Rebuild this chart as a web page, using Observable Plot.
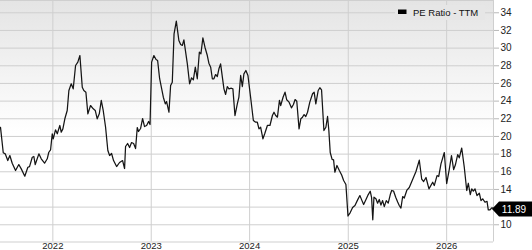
<!DOCTYPE html>
<html><head><meta charset="utf-8">
<script src="https://cdn.jsdelivr.net/npm/d3@7"></script>
<script src="https://cdn.jsdelivr.net/npm/@observablehq/plot@0.6"></script>
<style>
html,body{margin:0;padding:0;background:#fff;}
#chart{position:relative;width:532px;height:250px;overflow:hidden;}
#chart svg{font-family:"Liberation Sans",Arial,Helvetica,sans-serif;}
#chart svg [aria-label^="y-axis"] line,#chart svg [aria-label^="y-axis"] path{stroke:#b8b8b8;}
#chart svg [aria-label^="x-axis"] text{font-size:9.5px;}
</style></head><body><div id="chart"></div>
<script>
// decimal years of the weekly observations
const years = [
2021.468,2021.496,2021.516,2021.542,2021.563,2021.587,2021.621,2021.654,2021.679,2021.715,
2021.746,2021.763,2021.791,2021.807,2021.821,2021.858,2021.882,2021.916,2021.943,2021.959,
2021.977,2021.994,2022.004,2022.027,2022.045,2022.071,2022.085,2022.102,2022.122,2022.146,
2022.163,2022.187,2022.207,2022.231,2022.254,2022.275,2022.299,2022.315,
2022.336,2022.356,2022.383,2022.411,2022.431,2022.451,2022.472,2022.492,2022.512,2022.536,
2022.559,2022.577,2022.597,2022.617,2022.648,2022.678,2022.709,2022.729,2022.739,2022.760,
2022.780,2022.800,2022.821,2022.841,2022.858,2022.871,2022.892,2022.912,2022.932,2022.953,
2022.973,2022.988,
2023.004,2023.027,2023.049,2023.065,2023.085,2023.123,2023.143,2023.156,2023.180,2023.197,
2023.214,2023.232,2023.255,2023.281,2023.299,2023.316,2023.332,2023.367,2023.390,2023.410,
2023.428,2023.448,2023.468,2023.489,2023.505,2023.525,2023.546,2023.570,2023.586,2023.604,
2023.621,2023.637,2023.654,2023.672,2023.688,2023.705,2023.723,2023.739,2023.756,2023.773,
2023.790,2023.814,2023.830,2023.851,2023.875,2023.891,2023.909,2023.926,2023.942,
2023.962,2023.983,2024.010,2024.038,2024.061,2024.078,2024.095,2024.112,2024.135,2024.153,
2024.180,2024.206,2024.231,2024.247,2024.264,2024.282,2024.302,2024.315,2024.339,2024.359,
2024.376,2024.400,2024.424,2024.444,2024.461,2024.478,2024.501,2024.519,2024.536,2024.552,
2024.569,2024.587,2024.610,2024.638,2024.654,2024.671,2024.695,2024.712,2024.729,2024.753,
2024.773,
2024.790,2024.803,2024.817,2024.836,2024.851,2024.864,2024.885,2024.908,2024.933,2024.953,
2024.976,2024.997,2025.020,2025.044,2025.068,2025.095,2025.118,2025.136,2025.156,2025.180,
2025.203,2025.223,2025.237,2025.249,2025.261,2025.281,2025.298,2025.315,2025.332,2025.349,
2025.366,2025.386,2025.406,2025.427,2025.441,2025.461,2025.482,2025.502,2025.518,2025.535,
2025.553,2025.569,2025.596,2025.620,2025.654,2025.688,2025.722,2025.746,2025.766,2025.790,
2025.820,2025.858,2025.874,2025.902,2025.919,2025.942,2025.976,2026.000,2026.027,2026.049,
2026.071,2026.088,2026.112,2026.128,2026.153,2026.179,2026.204,2026.220,2026.240,2026.255,
2026.271,2026.288,2026.308,2026.332,2026.349,2026.366,2026.390,2026.410,2026.423,2026.440,
2026.458,2026.476
];
// PE Ratio - TTM values
const peRatio = [
21.04,18.15,18.03,17.27,17.84,16.97,16.14,16.82,16.33,15.50,
16.51,16.59,17.65,17.73,16.82,18.03,17.47,16.97,17.47,18.21,
18.49,20.30,19.73,20.75,20.30,21.24,20.48,20.86,22.00,22.94,
25.20,25.96,25.39,28.03,28.41,29.16,25.57,25.20,
25.01,22.56,23.50,23.13,22.94,22.00,22.56,24.07,22.94,21.04,
18.41,17.84,18.07,17.27,16.59,17.05,17.27,16.37,18.86,19.20,
18.75,19.31,19.20,18.63,21.01,20.56,20.90,22.03,21.12,21.24,
21.69,21.35,
28.41,29.16,28.71,28.60,26.56,24.44,23.69,23.95,22.74,25.77,
26.14,31.62,33.05,30.86,30.41,30.30,30.94,28.22,25.96,26.64,
26.41,27.84,26.53,29.54,29.36,31.17,30.10,29.16,28.29,27.84,
26.53,26.53,27.01,26.79,27.66,28.22,26.71,25.39,24.75,25.65,
25.39,25.46,25.39,22.37,23.69,24.44,26.90,25.65,27.09,
27.47,26.90,24.44,21.80,21.61,21.61,20.86,21.04,19.73,20.30,
21.24,21.24,22.37,22.74,22.37,22.18,24.07,23.50,24.44,25.01,
24.15,23.88,23.24,23.62,24.18,23.99,20.86,22.00,22.18,22.48,
22.26,22.74,23.88,24.83,25.01,23.69,25.20,25.51,25.28,20.67,
21.04,
22.26,20.67,18.18,17.41,17.35,15.95,16.71,16.17,15.63,15.01,
14.56,10.99,11.38,11.95,12.18,12.82,13.31,12.82,12.29,12.86,
13.42,13.80,13.08,10.56,13.12,12.94,12.44,12.86,12.23,12.74,
12.06,12.74,12.46,13.42,13.88,13.80,13.12,12.57,12.18,11.89,
13.20,13.03,13.93,14.22,15.12,16.03,17.31,15.18,14.90,15.35,
14.07,14.82,14.44,15.57,15.46,16.90,18.18,14.67,16.31,17.84,
16.25,16.76,17.95,17.58,18.69,16.51,13.88,14.70,13.42,14.07,
13.80,14.07,13.31,13.57,12.74,12.94,12.55,12.66,11.69,11.69,
11.92,11.89
];
const yTicks = [10,12,14,16,18,20,22,24,26,28,30,32,34];
const xTickYears = [2022,2023,2024,2025,2026];
const seriesName = "PE Ratio - TTM";
const lastLabel = "11.89";

function toDate(t){const y=Math.floor(t);const s=Date.UTC(y,0,1),e=Date.UTC(y+1,0,1);return new Date(s+(t-y)*(e-s));}
const data = years.map((t,i)=>({date:toDate(t), value:peRatio[i]}));
const xTicks = xTickYears.map(y=>new Date(Date.UTC(y,0,1)));
const last=data[data.length-1];

const W=532,H=250,plotRight=493,plotBottom=241.5;
const yDomain=[8.05,35.39];
const grid="#cfcfcf";
const chart = Plot.plot({
  width:W,height:H,
  marginLeft:0,marginRight:W-plotRight,marginTop:0,marginBottom:H-plotBottom,
  style:{background:"transparent",fontSize:"10px",color:"#222",overflow:"visible"},
  x:{type:"utc",domain:[data[0].date,last.date],ticks:xTicks,tickFormat:d3.utcFormat("%Y"),tickSize:0,tickPadding:0.5,label:null},
  y:{domain:yDomain,ticks:yTicks,label:null,axis:"right",tickSize:5,tickPadding:2,
     tickFormat:d=>Math.abs(d-last.value)<1.2?"":String(d)},
  marks:[
    Plot.ruleY(yTicks,{stroke:grid,strokeWidth:1}),
    Plot.ruleX(xTicks,{stroke:grid,strokeWidth:1}),
    Plot.ruleY([yDomain[0],yDomain[1]],{stroke:grid,strokeWidth:1}),
    Plot.ruleX([last.date],{stroke:grid,strokeWidth:1}),
    Plot.line(data,{x:"date",y:"value",stroke:"#151515",strokeWidth:1.25})
  ]
});
document.getElementById("chart").appendChild(chart);

const svg=d3.select(chart);
const ys=chart.scale("y"), xs=chart.scale("x");
// gradient background
const defs=svg.insert("defs",":first-child");
const g=defs.append("linearGradient").attr("id","bgGrad").attr("x1",0).attr("y1",0).attr("x2",0).attr("y2",1);
g.append("stop").attr("offset","0%").attr("stop-color","#e4e4e4");
g.append("stop").attr("offset","55%").attr("stop-color","#ffffff");
g.append("stop").attr("offset","100%").attr("stop-color","#ffffff");
svg.insert("rect","defs + *").attr("x",0).attr("y",0).attr("width",plotRight).attr("height",plotBottom).attr("fill","url(#bgGrad)");

// legend
const leg=svg.append("g").attr("text-anchor","start");
leg.append("rect").attr("x",395).attr("y",5).attr("width",90).attr("height",15).attr("fill","#e6e6e6");
leg.append("rect").attr("x",398).attr("y",9.5).attr("width",8.5).attr("height",4.5).attr("fill","#000");
leg.append("text").attr("x",413).attr("y",15.8).attr("text-anchor","start").attr("font-size","9.5px").attr("fill","#111").text(seriesName);

// end value label
const yy=ys.apply(last.value)+1.5, xx=xs.apply(last.date);
const end=svg.append("g");
end.append("path").attr("d",`M${xx-1},${yy} L${xx+6},${yy-7.5} L${W+2},${yy-7.5} L${W+2},${yy+7.5} L${xx+6},${yy+7.5} Z`).attr("fill","#000");
end.append("text").attr("x",514).attr("y",yy+3.5).attr("text-anchor","middle").attr("font-size","10px").attr("fill","#fff").text(lastLabel);
</script></body></html>
